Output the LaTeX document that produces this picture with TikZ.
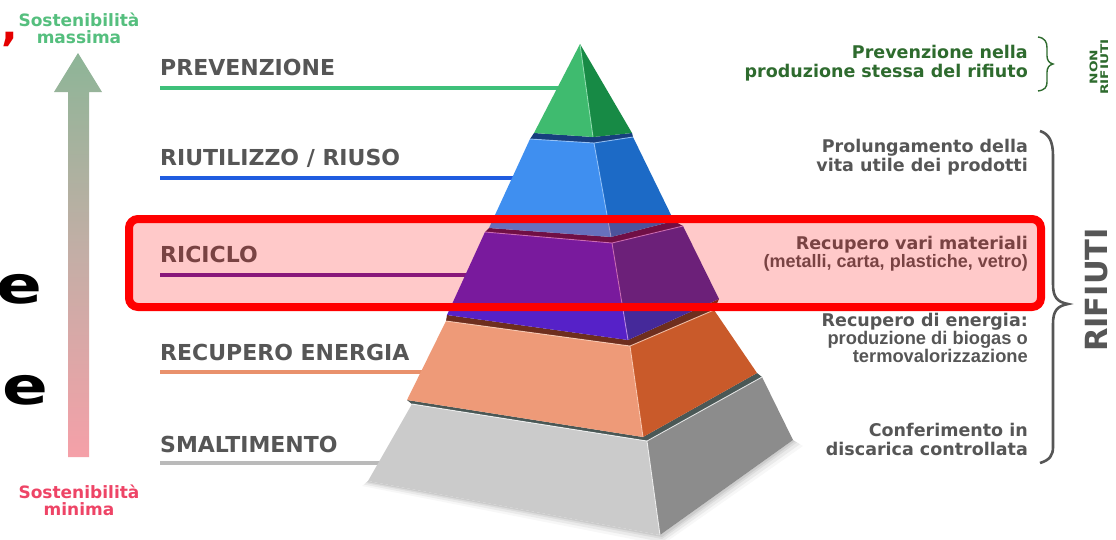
\documentclass[tikz,border=0pt]{standalone}
\usepackage{fontspec}
\setmainfont{DejaVu Sans}
\newfontfamily\narrowf{Liberation Sans}
\definecolor{labgray}{HTML}{565656}
\definecolor{dgreen}{HTML}{2E6B2E}
\definecolor{lgreen}{HTML}{3EC07A}
\definecolor{lblue}{HTML}{1F5CE0}
\definecolor{lpurp}{HTML}{6A1E9C}
\definecolor{lorange}{HTML}{E9916C}
\definecolor{lgray}{HTML}{BABABA}
\definecolor{sosttop}{HTML}{55BF7E}
\definecolor{sostbot}{HTML}{EE4466}
\definecolor{arrtop}{HTML}{8DB597}
\definecolor{arrmid}{HTML}{C4AEA6}
\definecolor{arrbot}{HTML}{F5A0A8}
\definecolor{gL}{HTML}{3FBB6F}\definecolor{gR}{HTML}{178A45}
\definecolor{bL}{HTML}{3F8FF0}\definecolor{bR}{HTML}{1C6AC6}
\definecolor{pL}{HTML}{5621C8}\definecolor{pR}{HTML}{45299A}
\definecolor{oL}{HTML}{EE9A78}\definecolor{oR}{HTML}{C95A2A}
\definecolor{yL}{HTML}{CBCBCB}\definecolor{yR}{HTML}{8C8C8C}
\definecolor{gapY}{HTML}{4A5856}
\definecolor{gapO}{HTML}{6E2E1E}
\definecolor{gapP}{HTML}{4A1458}
\definecolor{gapB}{HTML}{173F7E}
\definecolor{hlO}{HTML}{FFD8C4}
\definecolor{hlP}{HTML}{D69CF2}
\definecolor{hlB}{HTML}{A8D0FF}
\definecolor{hlG}{HTML}{A6EBC2}
\tikzset{
  lab/.style={font=\fontsize{22}{24}\selectfont\bfseries, text=labgray, anchor=base west, inner sep=0pt},
  rtxt/.style={align=right, anchor=north east, inner sep=0pt, text=labgray, font=\fontsize{17.5}{19}\selectfont\bfseries},
  lev/.style={line width=4pt},
  sost/.style={align=center, inner sep=0pt, font=\fontsize{17}{17}\selectfont\bfseries},
  cutl/.style={anchor=base east, inner sep=0pt, font=\fontsize{52}{52}\selectfont\bfseries},
  hl/.style={line width=0.9pt, opacity=0.75},
}
\begin{document}
\begin{tikzpicture}[x=1pt,y=-1pt]
\useasboundingbox (0,0) rectangle (1116,539);
\fill[white] (0,0) rectangle (1116,539);

% cut-off text at the left edge
\node[anchor=base east, inner sep=0pt, text=red!90!black, font=\fontsize{44}{44}\selectfont\bfseries] (cut0) at (18,40) {,};
\node[cutl] (cut1) at (43,303) {\scalebox{1.3}[1]{e}};
\node[cutl] (cut2) at (49,404) {\scalebox{1.3}[1]{e}};

% sustainability arrow
\shade[top color=arrtop, bottom color=arrbot, middle color=arrmid]
  (68,457) -- (68,92) -- (54,92) -- (78,53) -- (102,92) -- (89,92) -- (89,457) -- cycle;
\node[sost, text=sosttop] (smax) at (79,28) {Sostenibilità\\massima};
\node[sost, text=sostbot] (smin) at (79,500) {Sostenibilità\\minima};

% level labels
\node[lab] (l1) at (160,75) {PREVENZIONE};
\node[lab] (l2) at (160,165) {RIUTILIZZO / RIUSO};
\node[lab] (l3) at (160,262) {RICICLO};
\node[lab] (l4) at (160,360) {RECUPERO ENERGIA};
\node[lab] (l5) at (160,452) {SMALTIMENTO};

\coordinate (a1) at (160,88);  \coordinate (b1) at (560,88);
\coordinate (a2) at (160,178); \coordinate (b2) at (515,178);
\coordinate (a3) at (160,275); \coordinate (b3) at (470,275);
\coordinate (a4) at (160,372); \coordinate (b4) at (425,372);
\coordinate (a5) at (160,463); \coordinate (b5) at (385,463);
\draw[lev, lgreen] (a1) -- (b1);
\draw[lev, lblue] (a2) -- (b2);
\draw[lev, lpurp] (a3) -- (b3);
\draw[lev, lorange] (a4) -- (b4);
\draw[lev, lgray] (a5) -- (b5);

% pyramid coordinates
\coordinate (gA) at (580,44);
\coordinate (gBL) at (534,133); \coordinate (gBF) at (593,137); \coordinate (gBR) at (632,133);
\coordinate (bTL) at (530,139); \coordinate (bTF) at (594,143); \coordinate (bTR) at (633,137);
\coordinate (bBL) at (489,228); \coordinate (bBF) at (611,237); \coordinate (bBR) at (674,221);
\coordinate (pTL) at (485,232); \coordinate (pTF) at (612,243); \coordinate (pTR) at (683,226);
\coordinate (pBL) at (447,315); \coordinate (pBF) at (628,340); \coordinate (pBR) at (719,299);
\coordinate (oTL) at (446,321); \coordinate (oTF) at (630,346); \coordinate (oTR) at (714,310);
\coordinate (oBL) at (407,400); \coordinate (oBF) at (643,437); \coordinate (oBR) at (757,373);
\coordinate (yTL) at (412,404); \coordinate (yTF) at (647,441); \coordinate (yTR) at (762,377);
\coordinate (yBL) at (368,481); \coordinate (yBF) at (660,535); \coordinate (yBR) at (793,440);

% shadow
\foreach \d/\o in {10/0.03,7/0.05,4/0.06,2/0.07}{
  \fill[black, opacity=\o] (368,481) -- (660,535) -- (793,440) -- (793+\d,440+\d*0.6) -- (662,535+\d) -- (368-\d*0.6,481+\d*0.5) -- cycle;
}
% gaps between tiers
\fill[gapY] (yTL) -- (yTF) -- (yTR) -- (oBR) -- (oBF) -- (oBL) -- cycle;
\fill[gapO] (oTL) -- (oTF) -- (oTR) -- (pBR) -- (pBF) -- (pBL) -- cycle;
\fill[gapP] (pTL) -- (pTF) -- (pTR) -- (bBR) -- (bBF) -- (bBL) -- cycle;
\fill[gapB] (bTL) -- (bTF) -- (bTR) -- (gBR) -- (gBF) -- (gBL) -- cycle;

% gray tier
\fill[yL] (yTL) -- (yTF) -- (yBF) -- (yBL) -- cycle;
\fill[yR] (yTF) -- (yTR) -- (yBR) -- (yBF) -- cycle;
\draw[hl, white] (yTL) -- (yTF) -- (yTR) (yTF) -- (yBF);
% orange tier
\fill[oL] (oTL) -- (oTF) -- (oBF) -- (oBL) -- cycle;
\fill[oR] (oTF) -- (oTR) -- (oBR) -- (oBF) -- cycle;
\draw[hl, hlO] (oTL) -- (oTF) -- (oTR) (oTF) -- (oBF);
% purple tier
\fill[pL] (pTL) -- (pTF) -- (pBF) -- (pBL) -- cycle;
\fill[pR] (pTF) -- (pTR) -- (pBR) -- (pBF) -- cycle;
\draw[hl, hlP] (pTL) -- (pTF) -- (pTR) (pTF) -- (pBF);
% blue tier
\fill[bL] (bTL) -- (bTF) -- (bBF) -- (bBL) -- cycle;
\fill[bR] (bTF) -- (bTR) -- (bBR) -- (bBF) -- cycle;
\draw[hl, hlB] (bTL) -- (bTF) -- (bTR) (bTF) -- (bBF);
% green tier
\fill[gL] (gA) -- (gBF) -- (gBL) -- cycle;
\fill[gR] (gA) -- (gBR) -- (gBF) -- cycle;
\draw[hl, hlG] (gA) -- (gBF);

% right-hand descriptions
\node[rtxt, text=dgreen] (d1) at (1028,45) {Prevenzione nella\\produzione stessa del rifiuto};
\node[rtxt] (d2) at (1028,139) {Prolungamento della\\vita utile dei prodotti};
\node[rtxt, font=\fontsize{17.5}{16.5}\selectfont\bfseries] (d3) at (1028,236) {Recupero vari materiali\\{\narrowf\fontsize{18}{16.5}\selectfont\bfseries (metalli, carta, plastiche, vetro)}};
\node[rtxt, font=\fontsize{17.5}{18}\selectfont\bfseries] (d4) at (1028,313) {Recupero di energia:\\{\narrowf\fontsize{18.3}{18}\selectfont\bfseries produzione di biogas o}\\{\narrowf\fontsize{18.3}{18}\selectfont\bfseries termovalorizzazione}};
\node[rtxt] (d5) at (1028,423) {Conferimento in\\discarica controllata};

% highlight box
\fill[red, fill opacity=0.21, rounded corners=9pt] (129,219) rectangle (1041,307);
\draw[red, line width=8pt, rounded corners=9pt] (129,219) rectangle (1041,307);

% braces
\draw[dgreen, line width=1.4pt] (1038,37) .. controls (1045,38) and (1047,42) .. (1047,48) -- (1047,56) .. controls (1047,60) and (1049,63) .. (1053,64) .. controls (1049,65) and (1047,68) .. (1047,72) -- (1047,82) .. controls (1047,87) and (1045,90) .. (1038,91);
\draw[labgray, line width=2.6pt] (1040,131) .. controls (1049,134) and (1053,141) .. (1053,156) -- (1053,284) .. controls (1053,297) and (1057,302) .. (1068,304) .. controls (1057,306) and (1053,311) .. (1053,324) -- (1053,447) .. controls (1053,455) and (1050,460) .. (1040,463);

\node[rotate=90, inner sep=0pt, text=dgreen, font=\fontsize{10.5}{10}\selectfont\bfseries] (nonrif) at (1099,67) {\scalebox{1.3}[1]{\shortstack{NON\\RIFIUTI}}};
\node[rotate=90, inner sep=0pt, text=labgray, font=\fontsize{30.5}{31}\selectfont\bfseries] (rif) at (1097,290) {RIFIUTI};
\end{tikzpicture}
\end{document}
